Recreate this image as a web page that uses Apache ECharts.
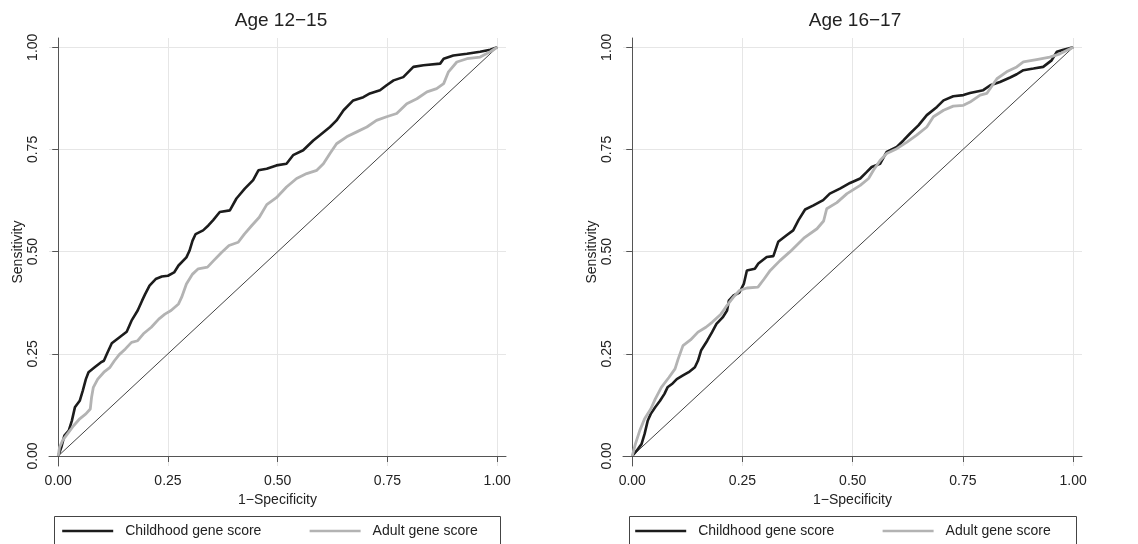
<!DOCTYPE html>
<html>
<head>
<meta charset="utf-8">
<script src="https://cdn.jsdelivr.net/npm/echarts@6.0.0/dist/echarts.min.js"></script>
<style>
html, body { margin: 0; padding: 0; background: #fff; }
#roc { width: 1138px; height: 544px; }
</style>
</head>
<body>
<div id="roc"></div>
<script>
var tickValues = [0, 0.25, 0.5, 0.75, 1];
var seriesNames = ['Childhood gene score', 'Adult gene score'];
var panelTitles = ['Age 12−15', 'Age 16−17'];
var diagX = [0, 1];
var diagY = [0, 1];

// Age 12-15, childhood gene score (1-specificity / sensitivity)
var child12X = [0, 0.007, 0.014, 0.024, 0.031, 0.038, 0.049, 0.056, 0.063, 0.069, 0.083, 0.097, 0.104, 0.111, 0.122, 0.139, 0.156, 0.167, 0.181, 0.191, 0.198, 0.208, 0.222, 0.236, 0.25, 0.264, 0.274, 0.292, 0.299, 0.306, 0.313, 0.33, 0.342, 0.353, 0.368, 0.391, 0.406, 0.425, 0.444, 0.456, 0.475, 0.497, 0.52, 0.535, 0.558, 0.581, 0.596, 0.619, 0.634, 0.65, 0.672, 0.695, 0.71, 0.733, 0.748, 0.764, 0.786, 0.809, 0.832, 0.87, 0.878, 0.9, 0.931, 0.961, 0.984, 1];
var child12Y = [0, 0.021, 0.05, 0.062, 0.086, 0.119, 0.135, 0.16, 0.188, 0.205, 0.217, 0.229, 0.233, 0.25, 0.276, 0.29, 0.304, 0.331, 0.356, 0.38, 0.396, 0.417, 0.433, 0.439, 0.441, 0.449, 0.466, 0.486, 0.502, 0.527, 0.543, 0.552, 0.564, 0.577, 0.597, 0.601, 0.63, 0.654, 0.675, 0.699, 0.703, 0.711, 0.715, 0.736, 0.748, 0.772, 0.785, 0.805, 0.821, 0.846, 0.87, 0.878, 0.887, 0.895, 0.907, 0.919, 0.927, 0.952, 0.956, 0.96, 0.972, 0.98, 0.984, 0.989, 0.994, 1];

// Age 12-15, adult gene score
var adult12X = [0, 0.003, 0.01, 0.021, 0.035, 0.049, 0.063, 0.073, 0.076, 0.08, 0.09, 0.104, 0.118, 0.128, 0.139, 0.153, 0.167, 0.181, 0.194, 0.212, 0.229, 0.243, 0.257, 0.274, 0.281, 0.292, 0.306, 0.319, 0.34, 0.354, 0.372, 0.389, 0.41, 0.424, 0.441, 0.458, 0.475, 0.497, 0.52, 0.543, 0.566, 0.589, 0.604, 0.619, 0.634, 0.657, 0.68, 0.703, 0.725, 0.748, 0.771, 0.794, 0.817, 0.84, 0.862, 0.878, 0.889, 0.908, 0.931, 0.961, 0.984, 1];
var adult12Y = [0, 0.021, 0.038, 0.054, 0.074, 0.091, 0.103, 0.115, 0.144, 0.168, 0.188, 0.205, 0.217, 0.233, 0.248, 0.262, 0.278, 0.282, 0.299, 0.315, 0.335, 0.347, 0.356, 0.372, 0.388, 0.421, 0.445, 0.458, 0.462, 0.478, 0.498, 0.515, 0.523, 0.543, 0.564, 0.584, 0.615, 0.632, 0.658, 0.679, 0.691, 0.699, 0.715, 0.74, 0.764, 0.781, 0.793, 0.805, 0.821, 0.83, 0.838, 0.862, 0.874, 0.891, 0.899, 0.911, 0.94, 0.964, 0.972, 0.976, 0.989, 1];

// Age 16-17, childhood gene score
var child16X = [0, 0.01, 0.021, 0.028, 0.035, 0.042, 0.052, 0.063, 0.073, 0.08, 0.09, 0.101, 0.115, 0.128, 0.142, 0.149, 0.156, 0.17, 0.181, 0.191, 0.205, 0.215, 0.219, 0.229, 0.243, 0.253, 0.26, 0.278, 0.286, 0.305, 0.32, 0.331, 0.35, 0.365, 0.377, 0.392, 0.411, 0.433, 0.448, 0.471, 0.494, 0.517, 0.532, 0.543, 0.562, 0.577, 0.6, 0.615, 0.63, 0.649, 0.668, 0.691, 0.706, 0.728, 0.751, 0.766, 0.796, 0.812, 0.834, 0.857, 0.872, 0.887, 0.91, 0.932, 0.951, 0.963, 0.978, 1];
var child16Y = [0, 0.013, 0.029, 0.054, 0.086, 0.103, 0.119, 0.135, 0.152, 0.168, 0.176, 0.188, 0.197, 0.205, 0.217, 0.233, 0.258, 0.282, 0.303, 0.323, 0.339, 0.356, 0.38, 0.392, 0.4, 0.421, 0.454, 0.458, 0.471, 0.487, 0.489, 0.524, 0.54, 0.552, 0.577, 0.603, 0.613, 0.626, 0.642, 0.654, 0.668, 0.679, 0.695, 0.707, 0.715, 0.744, 0.756, 0.772, 0.789, 0.809, 0.834, 0.854, 0.87, 0.88, 0.883, 0.888, 0.895, 0.907, 0.915, 0.926, 0.934, 0.944, 0.948, 0.952, 0.968, 0.989, 0.994, 1];

// Age 16-17, adult gene score
var adult16X = [0, 0.007, 0.017, 0.028, 0.042, 0.052, 0.066, 0.083, 0.097, 0.104, 0.115, 0.132, 0.149, 0.167, 0.181, 0.201, 0.212, 0.229, 0.243, 0.26, 0.285, 0.299, 0.313, 0.335, 0.358, 0.389, 0.419, 0.434, 0.441, 0.464, 0.487, 0.517, 0.536, 0.547, 0.562, 0.577, 0.6, 0.623, 0.645, 0.668, 0.683, 0.706, 0.728, 0.751, 0.766, 0.789, 0.804, 0.827, 0.849, 0.872, 0.887, 0.917, 0.947, 0.97, 1];
var adult16Y = [0, 0.029, 0.062, 0.091, 0.115, 0.139, 0.168, 0.192, 0.213, 0.237, 0.27, 0.284, 0.303, 0.315, 0.327, 0.347, 0.364, 0.388, 0.405, 0.411, 0.413, 0.433, 0.454, 0.478, 0.5, 0.533, 0.556, 0.575, 0.605, 0.62, 0.642, 0.662, 0.679, 0.699, 0.723, 0.74, 0.752, 0.768, 0.785, 0.805, 0.83, 0.846, 0.856, 0.858, 0.866, 0.883, 0.887, 0.923, 0.94, 0.952, 0.964, 0.97, 0.976, 0.984, 1];

function pairs(xs, ys) {
  return xs.map(function (x, i) { return [x, ys[i]] })
}

var font = "'Liberation Sans', Arial, sans-serif"
var txt = '#222'

function makeX(idx) {
  return {
    type: 'value', gridIndex: idx, min: -0.021, max: 1.02,
    name: '1−Specificity', nameLocation: 'middle', nameGap: 24,
    nameTextStyle: { fontSize: 14, color: txt, fontFamily: font },
    axisLine: { show: true, lineStyle: { color: '#555', width: 1 } },
    axisTick: { show: true, length: 6, customValues: tickValues, lineStyle: { color: '#555' } },
    axisLabel: {
      customValues: tickValues, margin: 8, fontSize: 14, color: txt, fontFamily: font,
      formatter: function (v) { return v.toFixed(2) }
    },
    splitLine: { show: true, lineStyle: { color: '#e6e6e6', width: 1 } }
  }
}

function makeY(idx) {
  return {
    type: 'value', gridIndex: idx, min: -0.0245, max: 1.0227,
    name: 'Sensitivity', nameLocation: 'middle', nameGap: 24,
    nameTextStyle: { fontSize: 14, color: txt, fontFamily: font },
    axisLine: { show: true, lineStyle: { color: '#555', width: 1 } },
    axisTick: { show: true, length: 6, customValues: tickValues, lineStyle: { color: '#555' } },
    axisLabel: {
      customValues: tickValues, margin: 9, rotate: 90, fontSize: 14, color: txt, fontFamily: font,
      formatter: function (v) { return v.toFixed(2) }
    },
    splitLine: { show: true, lineStyle: { color: '#e6e6e6', width: 1 } }
  }
}

function line(name, idx, data, color, width) {
  return {
    name: name, type: 'line', xAxisIndex: idx, yAxisIndex: idx,
    data: data, symbol: 'none', silent: true,
    lineStyle: { color: color, width: width }, itemStyle: { color: color }
  }
}

function legend(left) {
  return {
    left: left, top: 524, padding: 0, itemWidth: 51, itemHeight: 14, itemGap: 47,
    data: seriesNames, selectedMode: false,
    itemStyle: { opacity: 0 },
    lineStyle: { width: 2.4 },
    textStyle: { fontSize: 14, color: txt, fontFamily: font, padding: [0, 0, 0, 7] }
  }
}

var chart = echarts.init(document.getElementById('roc'))
chart.setOption({
  animation: false,
  backgroundColor: '#fff',
  title: [
    { text: panelTitles[0], left: 281, top: 11, padding: 0, textAlign: 'center',
      textStyle: { fontSize: 19, fontWeight: 'normal', color: txt, fontFamily: font } },
    { text: panelTitles[1], left: 855, top: 11, padding: 0, textAlign: 'center',
      textStyle: { fontSize: 19, fontWeight: 'normal', color: txt, fontFamily: font } }
  ],
  grid: [
    { left: 49, top: 38, width: 457, height: 428 },
    { left: 623, top: 38, width: 459, height: 428 }
  ],
  xAxis: [makeX(0), makeX(1)],
  yAxis: [makeY(0), makeY(1)],
  legend: [legend(61), legend(634)],
  graphic: [
    { type: 'rect', shape: { x: 54.5, y: 516.5, width: 446, height: 40 },
      style: { fill: 'none', stroke: '#444', lineWidth: 1 }, silent: true },
    { type: 'rect', shape: { x: 629.5, y: 516.5, width: 447, height: 40 },
      style: { fill: 'none', stroke: '#444', lineWidth: 1 }, silent: true }
  ],
  series: [
    line('reference', 0, pairs(diagX, diagY), '#444', 1),
    line(seriesNames[0], 0, pairs(child12X, child12Y), '#1c1c1c', 2.6),
    line(seriesNames[1], 0, pairs(adult12X, adult12Y), '#b3b3b3', 2.8),
    line('reference', 1, pairs(diagX, diagY), '#444', 1),
    line(seriesNames[0], 1, pairs(child16X, child16Y), '#1c1c1c', 2.6),
    line(seriesNames[1], 1, pairs(adult16X, adult16Y), '#b3b3b3', 2.8)
  ]
})
</script>
</body>
</html>
